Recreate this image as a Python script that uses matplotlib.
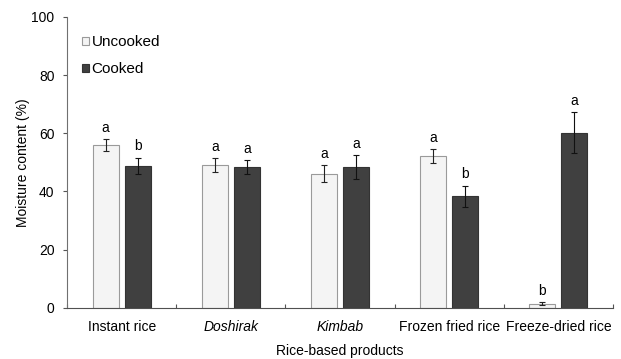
import numpy as np
import matplotlib.pyplot as plt

plt.rcParams["font.family"] = ["Liberation Sans", "DejaVu Sans"]

products = ["Instant rice", "Doshirak", "Kimbab", "Frozen fried rice", "Freeze-dried rice"]
italic = [False, True, True, False, False]

uncooked = [56.0, 49.0, 46.1, 52.1, 1.4]
uncooked_err = [2.0, 2.3, 2.8, 2.4, 0.4]
uncooked_sig = ["a", "a", "a", "a", "b"]

cooked = [48.7, 48.3, 48.5, 38.3, 60.2]
cooked_err = [2.9, 2.4, 4.1, 3.7, 7.0]
cooked_sig = ["b", "a", "a", "b", "a"]

fig = plt.figure(figsize=(6.21, 3.59), dpi=100)
ax = fig.add_axes([0.108, 0.143, 0.879, 0.810])

x = np.arange(len(products))
w = 0.24
off = 0.147

ax.bar(x - off, uncooked, w, color="#f4f4f4", edgecolor="#9a9a9a", linewidth=0.8,
       yerr=uncooked_err, capsize=2,
       error_kw=dict(ecolor="#222222", elinewidth=0.8, capthick=0.8),
       label="Uncooked")
ax.bar(x + off, cooked, w, color="#404040", edgecolor="#333333", linewidth=0.8,
       yerr=cooked_err, capsize=2,
       error_kw=dict(ecolor="#111111", elinewidth=0.8, capthick=0.8),
       label="Cooked")

for xi, v, e, s in zip(x - off, uncooked, uncooked_err, uncooked_sig):
    ax.annotate(s, (xi, v + e), xytext=(0, 3), textcoords="offset points",
                ha="center", va="bottom", fontsize=10)
for xi, v, e, s in zip(x + off, cooked, cooked_err, cooked_sig):
    ax.annotate(s, (xi, v + e), xytext=(0, 3), textcoords="offset points",
                ha="center", va="bottom", fontsize=10)

ax.set_xlim(-0.5, len(products) - 0.5)
ax.set_ylim(0, 100)
ax.set_yticks(np.arange(0, 101, 20))
ax.tick_params(axis="y", direction="out", length=3, labelsize=10, pad=6, color="#555555")

# category labels sit between boundary ticks
ax.set_xticks(np.arange(len(products) + 1) - 0.5)
ax.set_xticklabels([])
ax.tick_params(axis="x", direction="in", length=3, color="#555555")
ax.set_xticks(x, minor=True)
ax.set_xticklabels(products, minor=True)
ax.tick_params(axis="x", which="minor", length=0, labelsize=10, pad=9)
for lab, it in zip(ax.get_xticklabels(minor=True), italic):
    if it:
        lab.set_fontstyle("italic")

ax.spines["top"].set_visible(False)
ax.spines["right"].set_visible(False)
ax.spines["left"].set_color("#707070")
ax.spines["bottom"].set_color("#505050")

ax.set_xlabel("Rice-based products", fontsize=10, labelpad=7)
ax.set_ylabel("Moisture content (%)", fontsize=10, labelpad=1)

ax.legend(loc="upper left", bbox_to_anchor=(0.027, 0.937), frameon=False, fontsize=11,
          borderaxespad=0, borderpad=0,
          handlelength=0.45, handleheight=0.45, handletextpad=0.2, labelspacing=0.85)

fig.savefig("out.png", dpi=100)
